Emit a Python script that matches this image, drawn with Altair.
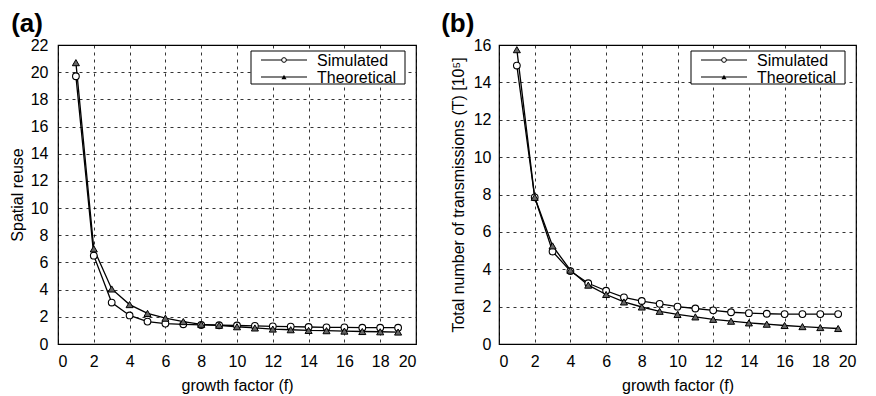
import altair as alt
import pandas as pd

f_vals = list(range(1, 20))

reuse_sim = [19.7, 6.5, 3.05, 2.1, 1.65, 1.5, 1.45, 1.4, 1.38, 1.36, 1.33, 1.3, 1.28, 1.25, 1.23, 1.22, 1.2, 1.2, 1.2]
reuse_theo = [20.7, 7.0, 4.05, 2.9, 2.25, 1.9, 1.65, 1.45, 1.38, 1.27, 1.18, 1.1, 1.05, 1.0, 0.98, 0.95, 0.92, 0.9, 0.88]

trans_sim = [14.9, 7.85, 4.95, 3.9, 3.25, 2.85, 2.5, 2.3, 2.15, 2.0, 1.9, 1.8, 1.7, 1.65, 1.62, 1.6, 1.6, 1.6, 1.6]
trans_theo = [15.75, 7.85, 5.25, 3.95, 3.15, 2.65, 2.25, 1.98, 1.75, 1.58, 1.45, 1.32, 1.22, 1.13, 1.06, 0.99, 0.93, 0.88, 0.83]

series_names = ["Simulated", "Theoretical"]
x_ticks = list(range(0, 21, 2))

FONT = "Liberation Sans"
H = 299


def long_df(sim, theo):
    rows = []
    for f, s, t in zip(f_vals, sim, theo):
        rows.append({"f": f, "v": s, "series": series_names[0]})
        rows.append({"f": f, "v": t, "series": series_names[1]})
    return pd.DataFrame(rows)


one = pd.DataFrame({"k": [0]})


def panel(sim, theo, ymax, ytitle, label, width, title_dx, lab_pad, title_pad):
    df = long_df(sim, theo)
    y_ticks = list(range(0, ymax + 1, 2))
    xenc = alt.X("f:Q", scale=alt.Scale(domain=[0, 20], nice=False),
                 axis=alt.Axis(values=x_ticks, title="growth factor (f)"))
    yenc = alt.Y("v:Q", scale=alt.Scale(domain=[0, ymax], nice=False),
                 axis=alt.Axis(values=y_ticks, title=ytitle, labelPadding=lab_pad,
                               titlePadding=title_pad))
    base = alt.Chart(df)
    lines = base.mark_line(color="black", strokeWidth=1.3).encode(
        x=xenc, y=yenc, detail="series:N")
    sim_pts = base.transform_filter(alt.datum.series == series_names[0]).mark_point(
        shape="circle", size=45, color="black", fill="white", filled=False,
        strokeWidth=1.1, opacity=1).encode(x=xenc, y=yenc)
    theo_pts = base.transform_filter(alt.datum.series == series_names[1]).mark_point(
        shape="triangle-up", size=50, color="black", fill="#666", filled=False,
        strokeWidth=1.0, opacity=1).encode(x=xenc, y=yenc)

    # legend box
    lx0, lx1, ly0, ly1 = width - 165, width - 11, 6, 39
    lc = alt.Chart(one)
    box = lc.mark_rect(fill="white", stroke="black", strokeWidth=1).encode(
        x=alt.value(lx0), x2=alt.value(lx1), y=alt.value(ly0), y2=alt.value(ly1))
    leg = []
    for i, name in enumerate(series_names):
        yy = 15 + 17 * i
        leg.append(lc.mark_rule(color="black", strokeWidth=1.2).encode(
            x=alt.value(lx0 + 10), x2=alt.value(lx0 + 56), y=alt.value(yy)))
        if i == 0:
            leg.append(lc.mark_point(shape="circle", size=22, color="black",
                                     fill="white", filled=False, opacity=1,
                                     strokeWidth=1).encode(
                x=alt.value(lx0 + 33), y=alt.value(yy)))
        else:
            leg.append(lc.mark_point(shape="triangle-up", size=26, color="black",
                                     fill="black", filled=True, opacity=1).encode(
                x=alt.value(lx0 + 33), y=alt.value(yy)))
        leg.append(lc.mark_text(align="left", baseline="middle", font=FONT,
                                fontSize=16, color="black").encode(
            x=alt.value(lx0 + 66), y=alt.value(yy + 0.5), text=alt.value(name)))

    return alt.layer(lines, sim_pts, theo_pts, box, *leg).properties(
        width=width, height=H,
        title=alt.TitleParams(label, anchor="start", frame="bounds", fontSize=26,
                              fontWeight="bold", font=FONT, dx=title_dx, offset=0))


a = panel(reuse_sim, reuse_theo, 22, "Spatial reuse", "(a)", 358, 2, 10, 5)
b = panel(trans_sim, trans_theo, 16, "Total number of transmissions (T) [10⁵]", "(b)", 357, -9, 8, 7)

chart = alt.hconcat(a, b, spacing=23).configure_view(
    stroke="black", strokeWidth=1.2
).configure_axis(
    grid=True, gridColor="black", gridDash=[3, 4], gridWidth=0.8, gridOpacity=1,
    domain=False, ticks=False, labelFont=FONT, titleFont=FONT,
    labelFontSize=16, titleFontSize=16, titleFontWeight="normal",
    labelColor="black", titleColor="black"
).configure_axisX(labelPadding=9, titlePadding=8).properties(
    background="white", padding={"left": 0, "top": 2, "right": 0, "bottom": 0})

chart.save("out.html", embed_options={"renderer": "svg", "actions": False})
